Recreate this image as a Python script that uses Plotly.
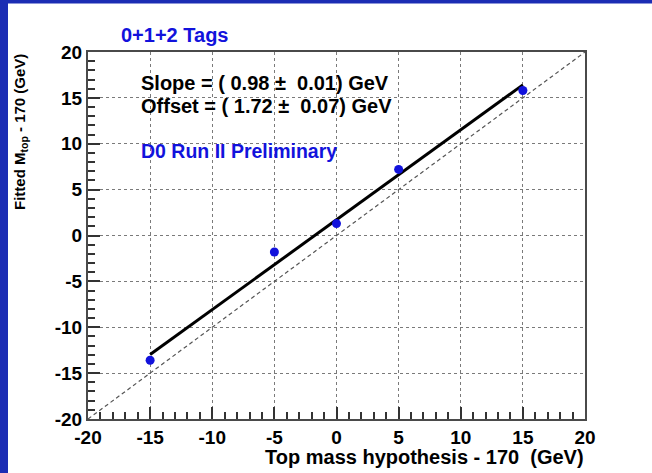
import numpy as np
import plotly.graph_objects as go

# Mass points (hypothesis - 170 GeV) and fitted top mass (- 170 GeV)
mass_hypothesis = [-15, -5, 0, 5, 15]
fitted_mass = [-13.6, -1.8, 1.3, 7.2, 15.8]

# Linear calibration fit result
slope, slope_err = 0.98, 0.01
offset, offset_err = 1.72, 0.07

axis_range = [-20, 20]
tick_values = [-20, -15, -10, -5, 0, 5, 10, 15, 20]
tick_labels = ["-20", "-15", "-10", "-5", "0", "5", "10", "15", "20"]

W, H = 652, 473
L, R, T, B = 88, 585, 52, 419  # plot area edges in pixels


def px(x):
    return (x - L) / (R - L)


def py(y):
    return (B - y) / (B - T)


BLUE = "#1212dc"
FRAME = "#4a4a4a"
TICK = "#333333"
FONT = "Liberation Sans, Arial, Helvetica, sans-serif"

fig = go.Figure()

# reference y = x diagonal
fig.add_trace(go.Scatter(
    x=axis_range, y=axis_range, mode="lines",
    line=dict(color="#555555", width=1.2, dash="4px,3px"),
    hoverinfo="skip", showlegend=False,
))

# fitted calibration line
fit_x = np.array([mass_hypothesis[0], mass_hypothesis[-1]], dtype=float)
fig.add_trace(go.Scatter(
    x=fit_x, y=slope * fit_x + offset, mode="lines",
    line=dict(color="black", width=3),
    showlegend=False,
))

# measured points
fig.add_trace(go.Scatter(
    x=mass_hypothesis, y=fitted_mass, mode="markers",
    marker=dict(color=BLUE, size=9),
    showlegend=False,
))

axis_common = dict(
    range=axis_range,
    tickmode="array", tickvals=tick_values, ticktext=tick_labels,
    ticks="inside", ticklen=12, tickwidth=2, tickcolor=TICK,
    minor=dict(ticks="inside", ticklen=7, tickwidth=2, tickcolor=TICK, dtick=1),
    showline=True, linecolor=FRAME, linewidth=2, mirror=True,
    showgrid=True, gridcolor="#7a7a7a", gridwidth=1, griddash="dot",
    zeroline=False,
    tickfont=dict(family=FONT, size=19, color="black", weight="bold"),
)

fig.update_xaxes(**axis_common)
fig.update_yaxes(**axis_common)

ann = []
ann.append(dict(text="0+1+2 Tags", x=px(119), y=py(35), xanchor="left", yanchor="middle",
                font=dict(family=FONT, size=20, color=BLUE, weight="bold")))
ann.append(dict(text=f"Slope = ( {slope:.2f} \u00b1  {slope_err:.2f}) GeV",
                x=px(139), y=py(83), xanchor="left", yanchor="middle",
                font=dict(family=FONT, size=20, color="black", weight="bold")))
ann.append(dict(text=f"Offset = ( {offset:.2f} \u00b1  {offset_err:.2f}) GeV",
                x=px(139), y=py(106), xanchor="left", yanchor="middle",
                font=dict(family=FONT, size=20, color="black", weight="bold")))
ann.append(dict(text="D0 Run II Preliminary", x=px(139), y=py(151), xanchor="left", yanchor="middle",
                font=dict(family=FONT, size=19.5, color=BLUE, weight="bold")))
ann.append(dict(text="Top mass hypothesis - 170  (GeV)", x=px(586), y=py(457),
                xanchor="right", yanchor="middle",
                font=dict(family=FONT, size=20, color="black", weight="bold")))
ann.append(dict(text="Fitted M<sub>top</sub> - 170 (GeV)", x=px(20), y=py(52),
                xanchor="center", yanchor="top", textangle=-90,
                font=dict(family=FONT, size=15, color="black", weight="bold")))
for a in ann:
    a.update(xref="paper", yref="paper", showarrow=False)

# dark blue slide border (left and top), kept behind the axes
border = "#1c2db4"
shapes = [
    dict(type="rect", xref="paper", yref="paper", x0=px(0), x1=px(8), y0=py(H), y1=py(0),
         fillcolor=border, line=dict(width=0), layer="below"),
    dict(type="rect", xref="paper", yref="paper", x0=px(0), x1=px(W), y0=py(3.5), y1=py(0),
         fillcolor=border, line=dict(width=0), layer="below"),
]

fig.update_layout(
    width=W, height=H,
    margin=dict(l=L, r=W - R, t=T, b=H - B),
    paper_bgcolor="white", plot_bgcolor="white",
    annotations=ann, shapes=shapes,
    showlegend=False,
)

fig.write_html("out.html")
